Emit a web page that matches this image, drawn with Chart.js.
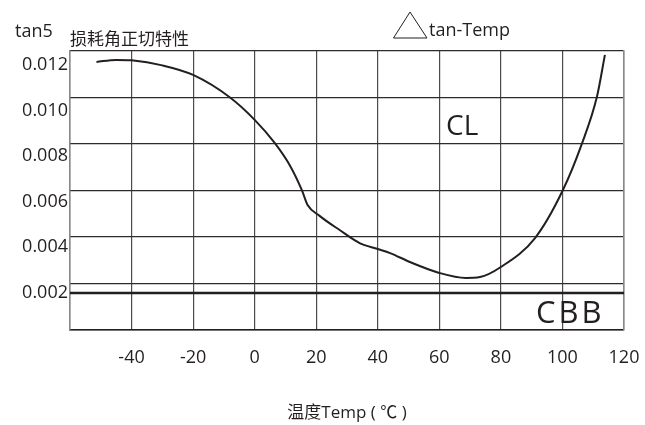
<!DOCTYPE html>
<html>
<head>
<meta charset="utf-8">
<script src="https://cdn.jsdelivr.net/npm/chart.js@4"></script>
<style>
  html, body { margin: 0; padding: 0; background: #fff; }
  #wrap { width: 645px; height: 425px; }
</style>
</head>
<body>
<div id="wrap"><canvas id="tanChart" width="645" height="425"></canvas></div>
<script>
// CL curve
const clTemp = [-51.4, -45, -40, -30, -20, -8, 0, 6.5, 11.4, 15.3, 17.2, 21.1, 27.6, 34.1, 40, 44, 50.4, 60, 68.6, 73.2, 80, 91.1, 100, 106.3, 111.2, 113.8];
const clTan = [0.01213, 0.01222, 0.0122, 0.01198, 0.01156, 0.01057, 0.00959, 0.00858, 0.0076, 0.00652, 0.00586, 0.00538, 0.00476, 0.00419, 0.00393, 0.00375, 0.00336, 0.00288, 0.00266, 0.0027, 0.00314, 0.00441, 0.00647, 0.00854, 0.0106, 0.01244];
// CBB flat line
const cbbTemp = [-60, 120];
const cbbTan = [0.002, 0.002];
// tick labels
const yTickValues = [0.002, 0.004, 0.006, 0.008, 0.010, 0.012];

const ink = '#231f20';
const fontLatin = '"Open Sans", "Noto Sans", sans-serif';
const fontCjk = '"Open Sans", "Noto Sans CJK SC", sans-serif';

const toPoints = (xs, ys) => xs.map((x, i) => ({ x: x, y: ys[i] }));

const notes = {
  id: 'notes',
  afterDraw(chart) {
    const ctx = chart.ctx;
    ctx.save();
    ctx.fillStyle = ink;
    ctx.strokeStyle = ink;
    ctx.textBaseline = 'alphabetic';
    ctx.textAlign = 'left';
    ctx.font = '18px ' + fontLatin;
    ctx.fillText('tan5', 15, 37);
    ctx.font = '17px ' + fontCjk;
    ctx.fillText('损耗角正切特性', 70, 45);
    // triangle marker
    ctx.lineWidth = 1;
    ctx.beginPath();
    ctx.moveTo(410, 12);
    ctx.lineTo(393.5, 38);
    ctx.lineTo(427, 38);
    ctx.closePath();
    ctx.stroke();
    ctx.font = '18px ' + fontLatin;
    ctx.fillText('tan-Temp', 429, 36);
    ctx.font = '28px ' + fontLatin;
    ctx.fillText('CL', 446, 135);
    ctx.font = '31px ' + fontLatin;
    ctx.letterSpacing = '3px';
    ctx.fillText('CBB', 536, 323);
    ctx.restore();
  }
};

new Chart(document.getElementById('tanChart'), {
  type: 'line',
  data: {
    datasets: [{
      label: 'CL',
      data: toPoints(clTemp, clTan),
      borderColor: ink,
      borderWidth: 2,
      pointRadius: 0,
      cubicInterpolationMode: 'monotone',
      fill: false
    }, {
      label: 'CBB',
      data: toPoints(cbbTemp, cbbTan),
      borderColor: ink,
      borderWidth: 2.5,
      pointRadius: 0,
      fill: false
    }]
  },
  options: {
    responsive: false,
    animation: false,
    layout: { padding: { top: 51, right: 21, left: 0, bottom: 0 } },
    plugins: { legend: { display: false }, tooltip: { enabled: false } },
    scales: {
      x: {
        type: 'linear',
        min: -60,
        max: 120,
        ticks: {
          stepSize: 20,
          padding: 17,
          color: ink,
          font: { family: fontLatin, size: 18 },
          callback: v => (v === -60 ? '' : v)
        },
        grid: { color: '#4d4a4a', lineWidth: 1.2, drawTicks: false },
        border: { color: ink, width: 1.5 },
        title: {
          display: true,
          text: '温度Temp ( ℃ )',
          color: ink,
          font: { family: fontCjk, size: 17 },
          padding: { top: 0, bottom: 2 }
        },
        afterFit: s => { s.height = 95; s.paddingLeft = 0; s.paddingRight = 0; }
      },
      y: {
        type: 'linear',
        min: 0.000377,
        max: 0.01261,
        afterBuildTicks: s => { s.ticks = yTickValues.map(v => ({ value: v })); },
        ticks: {
          padding: 2,
          color: ink,
          font: { family: fontLatin, size: 18 },
          callback: v => v.toFixed(3)
        },
        grid: { display: false, drawTicks: false },
        border: { color: '#8a8787', width: 1.5 },
        afterFit: s => { s.width = 70; s.paddingTop = 0; s.paddingBottom = 0; }
      },
      yGrid: {
        type: 'linear',
        position: 'right',
        min: 0,
        max: 6,
        ticks: { stepSize: 1, display: false },
        grid: { color: '#2e2b2b', lineWidth: 1.2, drawTicks: false },
        border: { color: '#8a8787', width: 1.5 },
        afterFit: s => { s.width = 0; s.paddingTop = 0; s.paddingBottom = 0; }
      }
    }
  },
  plugins: [notes]
});
</script>
</body>
</html>
